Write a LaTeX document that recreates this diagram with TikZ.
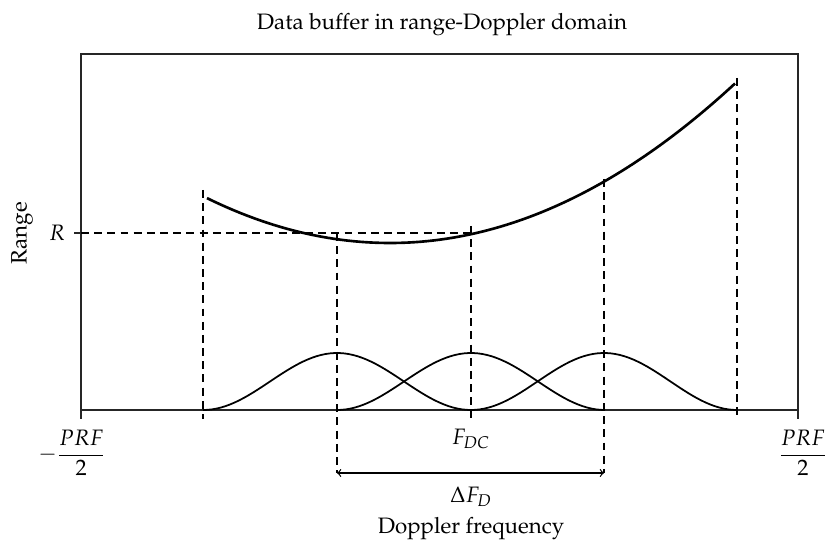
\documentclass[tikz,border=0pt]{standalone}
\usepackage[T1]{fontenc}
\usepackage{mathpazo}
\usepackage{amsmath}
\usepackage{tikz}
\usetikzlibrary{arrows, calc}
\tikzstyle{frame}=[draw=black!85, line width=0.8pt]
\tikzstyle{guide}=[draw=black, line width=0.6pt, dash pattern=on 4.5pt off 3pt]
\tikzstyle{migration}=[color=black, line width=1.5pt]
\tikzstyle{window}=[color=black, line width=1pt]
\tikzstyle{bandArrow}=[<->, >=to, line width=0.7pt]
\tikzstyle{txt}=[font=\fontsize{12.7}{14}\selectfont, inner sep=0pt]

\begin{document}
\begin{tikzpicture}[x=0.02cm, y=-0.02cm]
      \useasboundingbox (0,0) rectangle (827,543);
      % buffer frame and ticks
      \draw[frame] (81,54) rectangle (798,410);
      \coordinate (tickL) at (81,419);
      \coordinate (tickR) at (798,419);
      \coordinate (rTick) at (74,233);
      \coordinate (rAxis) at (81,233);
      \coordinate (rFdc) at (471,233);
      \draw[frame] (81,410) -- (tickL);
      \draw[frame] (798,410) -- (tickR);
      \draw[frame] (rTick) -- (rAxis);

      % guide lines
      \coordinate (topA) at (203,190);  \coordinate (botA) at (203,419);
      \coordinate (topB) at (337,233);  \coordinate (botB) at (337,473);
      \coordinate (topC) at (471,226);  \coordinate (botC) at (471,419);
      \coordinate (topD) at (604,179);  \coordinate (botD) at (604,473);
      \coordinate (topE) at (737,78);   \coordinate (botE) at (737,419);
      \draw[guide] (rAxis) -- (rFdc);
      \draw[guide] (topA) -- (botA);
      \draw[guide] (topB) -- (botB);
      \draw[guide] (topC) -- (botC);
      \draw[guide] (topD) -- (botD);
      \draw[guide] (topE) -- (botE);

      % range migration curve
      \draw[migration] plot[domain=207:735, samples=80] (\x, {243-0.134*((\x-390)/10)^2});

      % Doppler windows
      \draw[window] plot[domain=-134:134, samples=60] ({337+\x}, {410-28.5*(1+cos(\x/134*180))});
      \draw[window] plot[domain=-134:134, samples=60] ({471+\x}, {410-28.5*(1+cos(\x/134*180))});
      \draw[window] plot[domain=-133:133, samples=60] ({604+\x}, {410-28.5*(1+cos(\x/133*180))});

      \draw[bandArrow] (botB) -- (botD);

      % labels
      \node[txt] (title) at (442,25) {Data buffer in range-Doppler domain};
      \node[txt, rotate=90] (rangeLbl) at (22,233) {Range};
      \node[txt] (rLbl) at (57,233) {$R$};
      \node[txt] (prfNeg) at (72,453) {$-\dfrac{PRF}{2}$};
      \node[txt] (prfPos) at (803,453) {$\dfrac{PRF}{2}$};
      \node[txt] (fdcLbl) at (471,439) {$F_{DC}$};
      \node[txt] (bwLbl) at (471,497) {$\Delta F_D$};
      \node[txt] (xLbl) at (471,529) {Doppler frequency};
    \end{tikzpicture}
\end{document}
